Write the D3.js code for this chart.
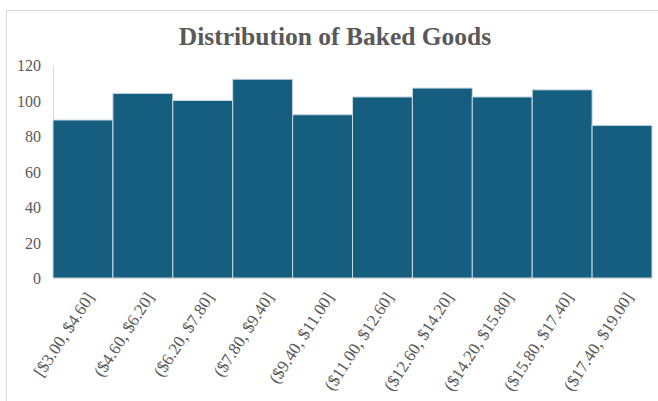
<!DOCTYPE html>
<meta charset="utf-8">
<style>
body { margin: 0; background: #fff; }
.axis text { font-family: "Liberation Serif", "Times New Roman", serif; font-size: 16px; fill: #595959; }
.xlab text { font-size: 17px; }
.title { font-family: "Liberation Serif", "Times New Roman", serif; font-size: 25.5px; font-weight: bold; fill: #595959; }
</style>
<body>
<svg width="658" height="401"></svg>
<script src="https://d3js.org/d3.v7.min.js"></script>
<script>
var bins = ["[$3.00, $4.60]", "($4.60, $6.20]", "($6.20, $7.80]", "($7.80, $9.40]", "($9.40, $11.00]",
            "($11.00, $12.60]", "($12.60, $14.20]", "($14.20, $15.80]", "($15.80, $17.40]", "($17.40, $19.00]"];
var counts = [89, 104, 100, 112, 92, 102, 107, 102, 106, 86];
var yTicks = [0, 20, 40, 60, 80, 100, 120];

var svg = d3.select("svg"),
    margin = {top: 65, right: 6, bottom: 123, left: 53},
    width = +svg.attr("width") - margin.left - margin.right,
    height = +svg.attr("height") - margin.top - margin.bottom;

// chart frame
svg.append("rect")
    .attr("x", 6.5).attr("y", 10.5)
    .attr("width", 700).attr("height", 450)
    .attr("fill", "none").attr("stroke", "#d9d9d9");

svg.append("text")
    .attr("class", "title")
    .attr("x", 335).attr("y", 45)
    .attr("text-anchor", "middle")
    .text("Distribution of Baked Goods");

var x = d3.scaleBand().domain(bins).range([0, width]).padding(0);
var y = d3.scaleLinear().domain([0, 120]).range([height, 0]);

var g = svg.append("g")
    .attr("transform", "translate(" + margin.left + "," + margin.top + ")");

// y axis
var yAxis = g.append("g")
    .attr("class", "axis")
    .call(d3.axisLeft(y).tickValues(yTicks).tickSize(0).tickPadding(12));
yAxis.select(".domain").attr("stroke", "#d9d9d9");
yAxis.selectAll("text").attr("dy", "0.35em");

// bars
g.selectAll(".bar")
    .data(counts)
  .enter().append("rect")
    .attr("class", "bar")
    .attr("x", function(d, i) { return x(bins[i]); })
    .attr("y", function(d) { return y(d); })
    .attr("width", x.bandwidth())
    .attr("height", function(d) { return height - y(d); })
    .attr("fill", "#165e80")
    .attr("stroke", "#c9d9e3")
    .attr("stroke-width", 1);

// x axis
var xAxis = g.append("g")
    .attr("class", "axis xlab")
    .attr("transform", "translate(0," + height + ")")
    .call(d3.axisBottom(x).tickSize(0).tickPadding(0));
xAxis.select(".domain").attr("stroke", "#d9d9d9");
xAxis.selectAll("text")
    .attr("text-anchor", "end")
    .attr("dy", "0.35em")
    .attr("transform", "translate(7,16) rotate(-57)");
</script>
</body>
